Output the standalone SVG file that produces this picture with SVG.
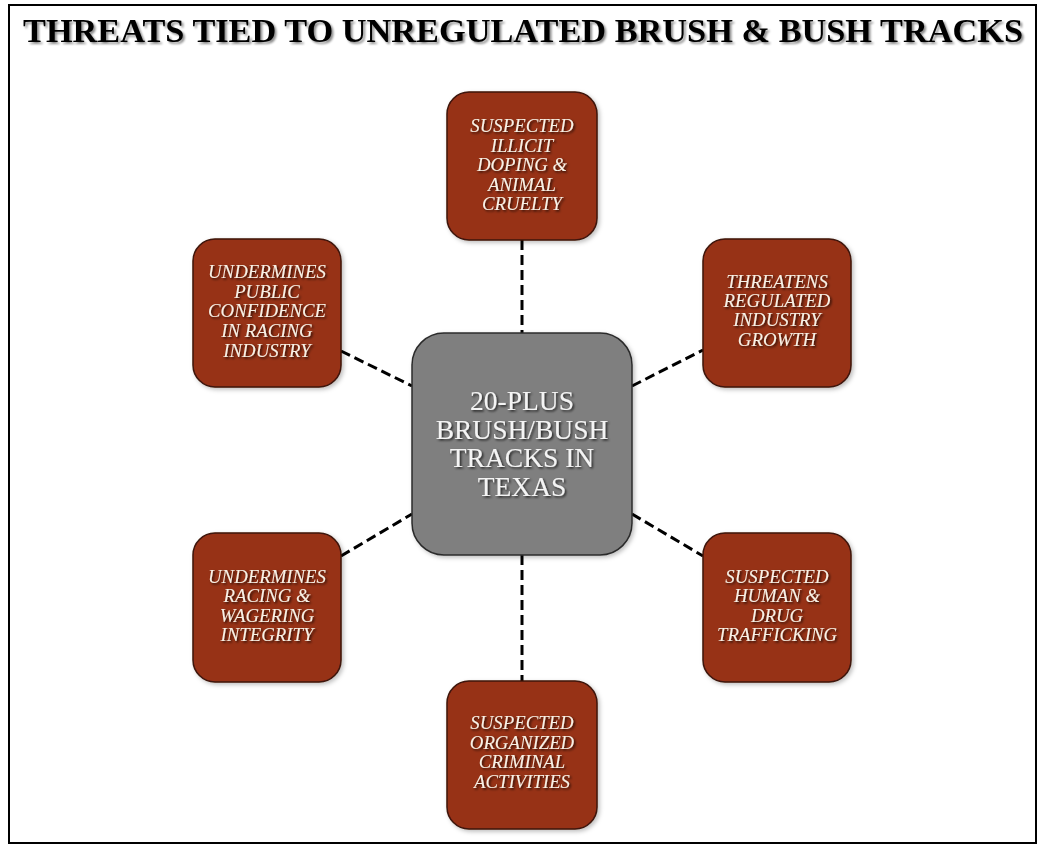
<svg xmlns="http://www.w3.org/2000/svg" width="1041" height="845" viewBox="0 0 1041 845">
<defs>
<filter id="ts" x="-10%" y="-30%" width="130%" height="170%"><feDropShadow dx="1.5" dy="1.5" stdDeviation="0.8" flood-color="#000" flood-opacity="0.75"/></filter>
<filter id="ns" x="-10%" y="-10%" width="125%" height="125%"><feDropShadow dx="2" dy="2" stdDeviation="2" flood-color="#000" flood-opacity="0.25"/></filter>
<filter id="tts" x="-5%" y="-30%" width="110%" height="170%"><feDropShadow dx="2" dy="2" stdDeviation="1.2" flood-color="#000" flood-opacity="0.45"/></filter>
</defs>
<style>
.sat{fill:#973019;stroke:#3d1408;stroke-width:1.5}
.ctr{fill:#7f7f7f;stroke:#2b2b2b;stroke-width:1.5}
.lbl{font-family:"Liberation Serif","Times New Roman",serif;font-style:italic;font-size:18.8px;fill:#f7f1e6;text-anchor:middle}
.clbl{font-family:"Liberation Serif","Times New Roman",serif;font-size:27.5px;fill:#f4f4f4;text-anchor:middle}
.con{stroke:#000;stroke-width:3;stroke-dasharray:10 5;fill:none}
.title{font-family:"Liberation Serif","Times New Roman",serif;font-weight:bold;font-size:34px;fill:#000;text-anchor:middle}
</style>
<rect x="0" y="0" width="1041" height="845" fill="#fff"/>
<rect x="9" y="5" width="1027" height="838" fill="#fff" stroke="#000" stroke-width="2"/>
<text class="title" x="523" y="42" textLength="1000" lengthAdjust="spacingAndGlyphs" filter="url(#tts)">THREATS TIED TO UNREGULATED BRUSH &amp; BUSH TRACKS</text>
<g id="connectors">
<line class="con" x1="522" y1="240" x2="522" y2="333"/>
<line class="con" x1="522" y1="555" x2="522" y2="681"/>
<line class="con" x1="341" y1="351" x2="412" y2="386"/>
<line class="con" x1="632" y1="386" x2="703" y2="350"/>
<line class="con" x1="341" y1="556" x2="412" y2="514"/>
<line class="con" x1="632" y1="514" x2="703" y2="556"/>
</g>
<g id="center">
<rect class="ctr" x="412" y="333" width="220" height="222" rx="32" filter="url(#ns)"/>
<g filter="url(#ts)">
<text class="clbl" x="522" y="410">20-PLUS</text>
<text class="clbl" x="522" y="439">BRUSH/BUSH</text>
<text class="clbl" x="522" y="467">TRACKS IN</text>
<text class="clbl" x="522" y="496">TEXAS</text>
</g>
</g>
<g id="doping">
<rect class="sat" x="447" y="92" width="150" height="148" rx="22" filter="url(#ns)"/>
<g filter="url(#ts)">
<text class="lbl" x="522" y="132">SUSPECTED</text>
<text class="lbl" x="522" y="152">ILLICIT</text>
<text class="lbl" x="522" y="171">DOPING &amp;</text>
<text class="lbl" x="522" y="191">ANIMAL</text>
<text class="lbl" x="522" y="210">CRUELTY</text>
</g>
</g>
<g id="confidence">
<rect class="sat" x="193" y="239" width="148" height="148" rx="22" filter="url(#ns)"/>
<g filter="url(#ts)">
<text class="lbl" x="267" y="278">UNDERMINES</text>
<text class="lbl" x="267" y="298">PUBLIC</text>
<text class="lbl" x="267" y="317">CONFIDENCE</text>
<text class="lbl" x="267" y="337">IN RACING</text>
<text class="lbl" x="267" y="357">INDUSTRY</text>
</g>
</g>
<g id="growth">
<rect class="sat" x="703" y="239" width="148" height="148" rx="22" filter="url(#ns)"/>
<g filter="url(#ts)">
<text class="lbl" x="777" y="288">THREATENS</text>
<text class="lbl" x="777" y="307">REGULATED</text>
<text class="lbl" x="777" y="326">INDUSTRY</text>
<text class="lbl" x="777" y="346">GROWTH</text>
</g>
</g>
<g id="integrity">
<rect class="sat" x="193" y="533" width="148" height="149" rx="22" filter="url(#ns)"/>
<g filter="url(#ts)">
<text class="lbl" x="267" y="583">UNDERMINES</text>
<text class="lbl" x="267" y="602">RACING &amp;</text>
<text class="lbl" x="267" y="622">WAGERING</text>
<text class="lbl" x="267" y="641">INTEGRITY</text>
</g>
</g>
<g id="trafficking">
<rect class="sat" x="703" y="533" width="148" height="149" rx="22" filter="url(#ns)"/>
<g filter="url(#ts)">
<text class="lbl" x="777" y="583">SUSPECTED</text>
<text class="lbl" x="777" y="602">HUMAN &amp;</text>
<text class="lbl" x="777" y="622">DRUG</text>
<text class="lbl" x="777" y="641">TRAFFICKING</text>
</g>
</g>
<g id="organized">
<rect class="sat" x="447" y="681" width="150" height="148" rx="22" filter="url(#ns)"/>
<g filter="url(#ts)">
<text class="lbl" x="522" y="729">SUSPECTED</text>
<text class="lbl" x="522" y="749">ORGANIZED</text>
<text class="lbl" x="522" y="768">CRIMINAL</text>
<text class="lbl" x="522" y="788">ACTIVITIES</text>
</g>
</g>
</svg>
